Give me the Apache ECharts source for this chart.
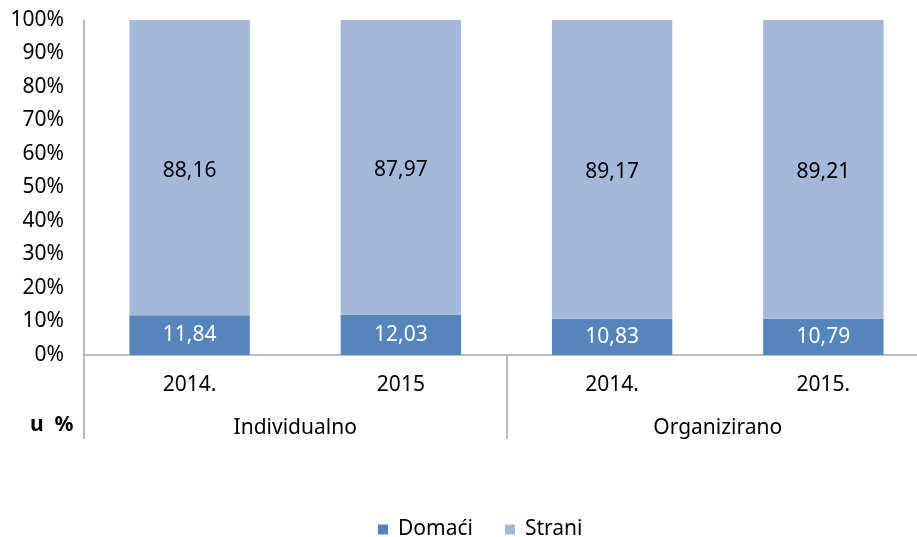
<!DOCTYPE html>
<html>
<head>
<meta charset="utf-8">
<script src="https://cdn.jsdelivr.net/npm/echarts@6/dist/echarts.min.js"></script>
<style>
	html, body { margin: 0; padding: 0; background: #fff; }
	#chart { width: 917px; height: 537px; }
</style>
</head>
<body>
<div id="chart"></div>
<script>
// podaci
var years = ['2014.', '2015', '2014.', '2015.']
var groups = ['Individualno', 'Organizirano']
var domaci = [11.84, 12.03, 10.83, 10.79]
var strani = [88.16, 87.97, 89.17, 89.21]

var font = '"Noto Sans", sans-serif'
var fmt = function (p) {
	return p.value.toFixed(2).replace('.', ',')
}

var myChart = echarts.init(document.getElementById('chart'))
myChart.setOption({
	animation: false,
	textStyle: { fontFamily: font },
	// grid ide malo preko desnog ruba slike
	grid: { left: 84, right: -12, top: 20, bottom: 182, outerBoundsMode: 'none' },
	legend: {
		left: 373,
		top: 514,
		itemWidth: 10,
		itemHeight: 10,
		itemGap: 32,
		icon: 'rect',
		textStyle: { fontSize: 21, color: '#000', fontFamily: font, padding: [0, 0, 0, 5] },
		data: ['Domaći', 'Strani'],
	},
	xAxis: [
		{
			type: 'category',
			data: years,
			axisLine: { lineStyle: { color: '#a6a6a6', width: 1.5 } },
			axisTick: { show: false },
			axisLabel: { fontSize: 21, color: '#000', margin: 20 },
		},
		{
			type: 'category',
			data: groups,
			position: 'bottom',
			axisLine: { show: false },
			axisTick: { show: true, length: 84, interval: 0, lineStyle: { color: '#a6a6a6', width: 1.5 } },
			axisLabel: { fontSize: 21, color: '#000', margin: 63 },
		},
	],
	yAxis: {
		type: 'value',
		min: 0,
		max: 100,
		interval: 10,
		axisLine: { show: true, lineStyle: { color: '#a6a6a6', width: 1.5 } },
		axisTick: { show: false },
		splitLine: { show: false },
		axisLabel: { fontSize: 21, color: '#000', margin: 20, formatter: '{value}%' },
	},
	graphic: [
		{
			type: 'text',
			left: 30,
			top: 415,
			style: { text: 'u  %', font: 'bold 21px ' + font, fill: '#000' },
		},
	],
	series: [
		{
			name: 'Domaći',
			type: 'bar',
			stack: 'a',
			barWidth: '57%',
			data: domaci,
			itemStyle: { color: '#5585bb' },
			label: { show: true, position: 'inside', color: '#fff', fontSize: 21, formatter: fmt },
		},
		{
			name: 'Strani',
			type: 'bar',
			stack: 'a',
			data: strani,
			itemStyle: { color: '#a4b8da' },
			label: { show: true, position: 'inside', offset: [0, 3], color: '#000', fontSize: 21, formatter: fmt },
		},
	],
})
</script>
</body>
</html>
